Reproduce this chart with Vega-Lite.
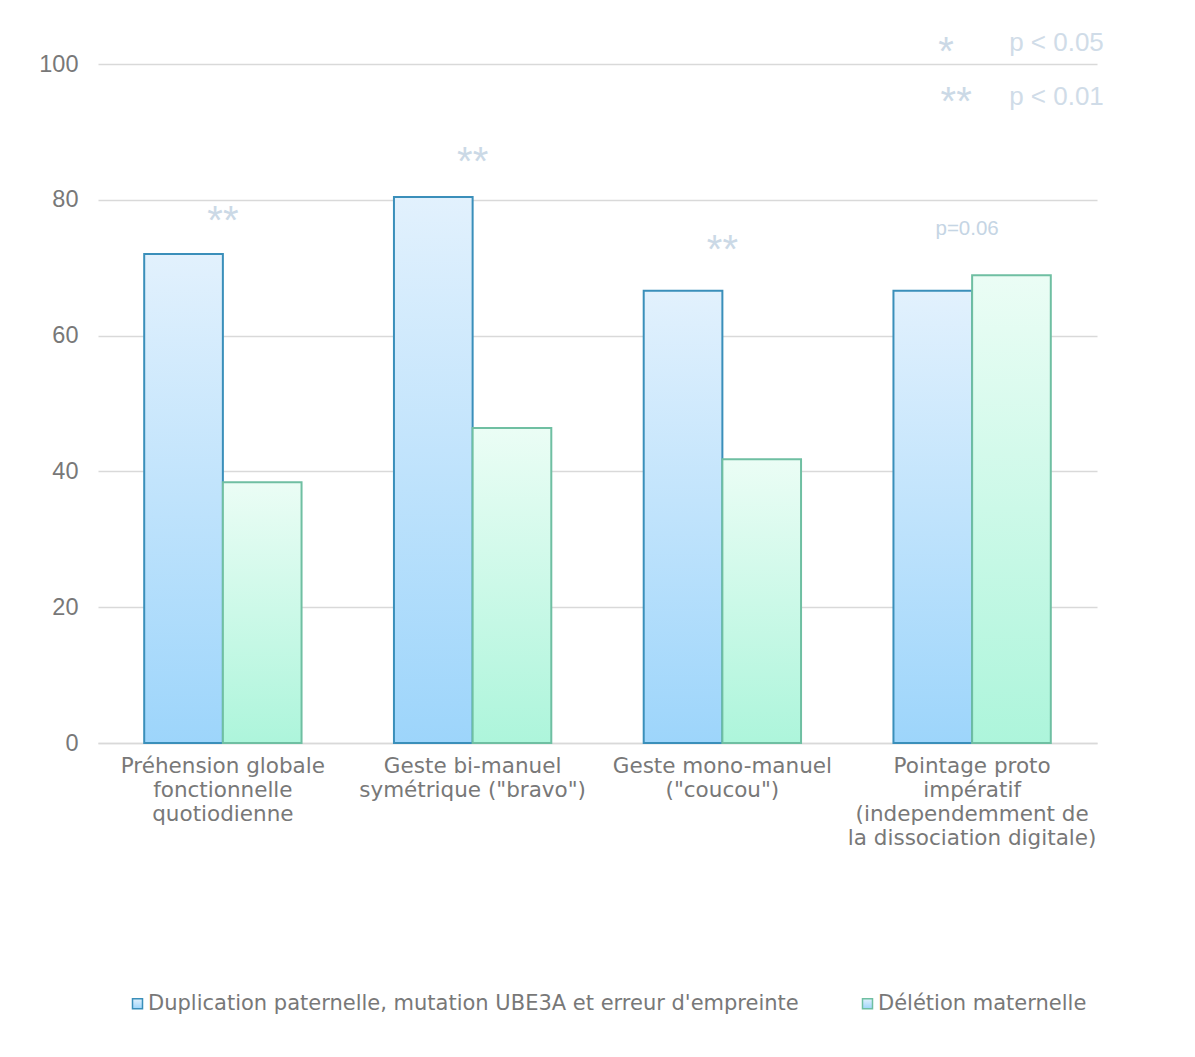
{
  "$schema": "https://vega.github.io/schema/vega-lite/v6.json",
  "width": 999,
  "height": 679,
  "autosize": {"type": "none"},
  "padding": {"left": 98, "top": 64, "right": 98, "bottom": 314},
  "background": "white",
  "config": {
    "font": "Liberation Sans",
    "view": {"stroke": null}
  },
  "datasets": {
    "bars": [
      {"cat": "Préhension globale|fonctionnelle|quotiodienne", "series": "Duplication paternelle, mutation UBE3A et erreur d'empreinte", "value": 72.0},
      {"cat": "Préhension globale|fonctionnelle|quotiodienne", "series": "Délétion maternelle", "value": 38.4},
      {"cat": "Geste bi-manuel|symétrique (\"bravo\")", "series": "Duplication paternelle, mutation UBE3A et erreur d'empreinte", "value": 80.4},
      {"cat": "Geste bi-manuel|symétrique (\"bravo\")", "series": "Délétion maternelle", "value": 46.4},
      {"cat": "Geste mono-manuel|(\"coucou\")", "series": "Duplication paternelle, mutation UBE3A et erreur d'empreinte", "value": 66.6},
      {"cat": "Geste mono-manuel|(\"coucou\")", "series": "Délétion maternelle", "value": 41.8},
      {"cat": "Pointage proto|impératif|(independemment de|la dissociation digitale)", "series": "Duplication paternelle, mutation UBE3A et erreur d'empreinte", "value": 66.6},
      {"cat": "Pointage proto|impératif|(independemment de|la dissociation digitale)", "series": "Délétion maternelle", "value": 68.9}
    ],
    "stars": [
      {"cat": "Préhension globale|fonctionnelle|quotiodienne", "label": "**", "y": 77.6},
      {"cat": "Geste bi-manuel|symétrique (\"bravo\")", "label": "**", "y": 86.2},
      {"cat": "Geste mono-manuel|(\"coucou\")", "label": "**", "y": 73.2}
    ],
    "pval": [
      {"cat": "Pointage proto|impératif|(independemment de|la dissociation digitale)", "label": "p=0.06", "y": 75.7}
    ],
    "keyStar1": [
      {"cat": "Pointage proto|impératif|(independemment de|la dissociation digitale)", "label": "*", "y": 102.4}
    ],
    "keyStar2": [
      {"cat": "Pointage proto|impératif|(independemment de|la dissociation digitale)", "label": "**", "y": 95.1}
    ],
    "keyText": [
      {"cat": "Pointage proto|impératif|(independemment de|la dissociation digitale)", "label": "p < 0.05", "y": 103.1},
      {"cat": "Pointage proto|impératif|(independemment de|la dissociation digitale)", "label": "p < 0.01", "y": 95.2}
    ]
  },
  "encoding": {
    "x": {
      "field": "cat",
      "type": "nominal",
      "sort": null,
      "scale": {
        "domain": [
          "Préhension globale|fonctionnelle|quotiodienne",
          "Geste bi-manuel|symétrique (\"bravo\")",
          "Geste mono-manuel|(\"coucou\")",
          "Pointage proto|impératif|(independemment de|la dissociation digitale)"
        ],
        "paddingInner": 0.37,
        "paddingOuter": 0.185
      },
      "axis": {
        "title": null,
        "labelAngle": 0,
        "labelExpr": "split(datum.label, '|')",
        "labelFont": "DejaVu Sans",
        "labelFontSize": 21.5,
        "labelColor": "#787878",
        "labelLineHeight": 24,
        "labelPadding": 12,
        "labelLimit": 300,
        "ticks": false,
        "domainColor": "#d9d9d9",
        "domainWidth": 1.5
      }
    },
    "y": {
      "field": "value",
      "type": "quantitative",
      "scale": {"domain": [0, 100], "nice": false},
      "axis": {
        "title": null,
        "values": [0, 20, 40, 60, 80, 100],
        "labelFontSize": 23.5,
        "labelColor": "#787878",
        "labelPadding": 20,
        "ticks": false,
        "domain": false,
        "gridColor": "#d9d9d9",
        "gridWidth": 1.5
      }
    }
  },
  "layer": [
    {
      "data": {"name": "bars"},
      "transform": [{"filter": "datum.series === 'Duplication paternelle, mutation UBE3A et erreur d\\'empreinte'"}],
      "mark": {
        "type": "bar",
        "strokeWidth": 2,
        "fill": {"gradient": "linear", "x1": 0, "y1": 0, "x2": 0, "y2": 1, "stops": [{"offset": 0, "color": "#e2f1fd"}, {"offset": 1, "color": "#9dd5fb"}]}
      },
      "encoding": {
        "xOffset": {"field": "series", "type": "nominal", "scale": {"domain": ["Duplication paternelle, mutation UBE3A et erreur d'empreinte", "Délétion maternelle"], "paddingInner": 0, "paddingOuter": 0}},
        "stroke": {
          "field": "series",
          "type": "nominal",
          "scale": {"domain": ["Duplication paternelle, mutation UBE3A et erreur d'empreinte", "Délétion maternelle"], "range": ["#3a8fba", "#6fbfa2"]},
          "legend": {
            "title": null,
            "orient": "none",
            "direction": "horizontal",
            "legendX": 29,
            "legendY": 929,
            "symbolType": "square",
            "symbolSize": 100,
            "symbolStrokeWidth": 1.5,
            "labelFont": "DejaVu Sans",
            "labelFontSize": 21,
            "labelColor": "#787878",
            "labelOffset": 0,
            "columnPadding": 58,
            "labelLimit": 800,
            "encode": {
              "symbols": {
                "update": {
                  "fill": {"signal": "datum.value === 'Délétion maternelle' ? '#c9f7e6' : '#c6e6fc'"},
                  "opacity": {"value": 1}
                }
              }
            }
          }
        }
      }
    },
    {
      "data": {"name": "bars"},
      "transform": [{"filter": "datum.series === 'Délétion maternelle'"}],
      "mark": {
        "type": "bar",
        "strokeWidth": 2,
        "fill": {"gradient": "linear", "x1": 0, "y1": 0, "x2": 0, "y2": 1, "stops": [{"offset": 0, "color": "#ebfdf5"}, {"offset": 1, "color": "#adf5db"}]}
      },
      "encoding": {
        "xOffset": {"field": "series", "type": "nominal", "scale": {"domain": ["Duplication paternelle, mutation UBE3A et erreur d'empreinte", "Délétion maternelle"], "paddingInner": 0, "paddingOuter": 0}},
        "stroke": {"field": "series", "type": "nominal"}
      }
    },
    {
      "data": {"name": "stars"},
      "mark": {"type": "text", "fontSize": 40, "color": "#cbd9e6", "baseline": "alphabetic", "dy": 17.5},
      "encoding": {
        "y": {"field": "y", "type": "quantitative"},
        "text": {"field": "label"}
      }
    },
    {
      "data": {"name": "pval"},
      "mark": {"type": "text", "fontSize": 20.5, "color": "#c5d5e4", "baseline": "middle", "dx": -5},
      "encoding": {
        "y": {"field": "y", "type": "quantitative"},
        "text": {"field": "label"}
      }
    },
    {
      "data": {"name": "keyStar1"},
      "mark": {"type": "text", "fontSize": 40, "color": "#cbd9e6", "baseline": "alphabetic", "dy": 17.5, "dx": -26},
      "encoding": {
        "y": {"field": "y", "type": "quantitative"},
        "text": {"field": "label"}
      }
    },
    {
      "data": {"name": "keyStar2"},
      "mark": {"type": "text", "fontSize": 40, "color": "#cbd9e6", "baseline": "alphabetic", "dy": 17.5, "dx": -16},
      "encoding": {
        "y": {"field": "y", "type": "quantitative"},
        "text": {"field": "label"}
      }
    },
    {
      "data": {"name": "keyText"},
      "mark": {"type": "text", "fontSize": 26, "color": "#d0dce8", "baseline": "middle", "align": "left", "dx": 37},
      "encoding": {
        "y": {"field": "y", "type": "quantitative"},
        "text": {"field": "label"}
      }
    }
  ]
}
